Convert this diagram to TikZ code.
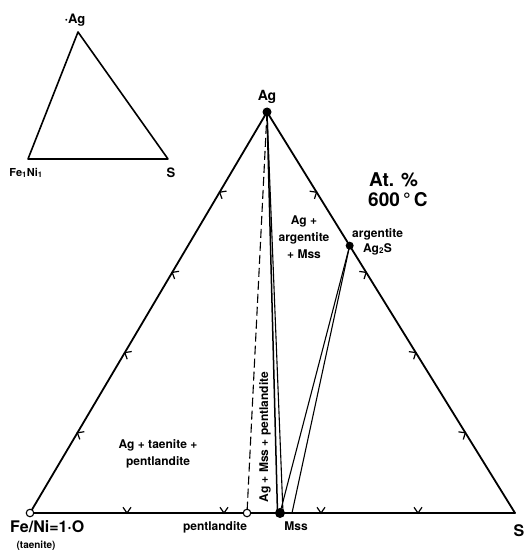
\documentclass[tikz,border=0pt]{standalone}
\usepackage{fontspec}
\setmainfont{TeX Gyre Heros}
\usetikzlibrary{calc}
\begin{document}
\begin{tikzpicture}[x=1pt,y=-1pt,
  edge/.style={line width=1.8pt, line cap=round, line join=round},
  tie/.style={line width=1.1pt},
  dashtie/.style={line width=1.1pt, dash pattern=on 9pt off 4pt},
  tickmark/.style={line width=1.2pt},
  lbl/.style={font=\bfseries\fontsize{12}{17}\selectfont, inner sep=0pt, align=center},
  biglbl/.style={font=\bfseries\fontsize{16}{18}\selectfont, inner sep=0pt},
  fdot/.style={circle, fill=black, inner sep=0pt, minimum size=9pt},
  odot/.style={circle, draw=black, fill=white, line width=1.1pt, inner sep=0pt, minimum size=7.5pt}]
\useasboundingbox (0,0) rectangle (525,553);

% inset triangle
\coordinate (iA) at (78,32);
\coordinate (iF) at (28,159);
\coordinate (iS) at (168,159);
\draw[edge, line width=1.6pt] (iA) -- (iF) -- (iS) -- cycle;
\node[lbl, font=\bfseries\fontsize{13}{15}\selectfont] (iAl) at (75,20) {·Ag};
\node[lbl, font=\bfseries\fontsize{11}{13}\selectfont] (iFl) at (26,173) {Fe\textsubscript{1}Ni\textsubscript{1}};
\node[lbl, font=\bfseries\fontsize{13}{15}\selectfont] (iSl) at (171,173) {S};

% main triangle
\coordinate (Ag) at (267,112);
\coordinate (FN) at (30,513);
\coordinate (S) at (515,513);
\coordinate (Ag2S) at ($(Ag)!1/3!(S)$);
\coordinate (Mss) at (280,513);
\coordinate (Pn) at (247,513);
\coordinate (M1) at (277.5,513);
\coordinate (M2) at (283,513);
\coordinate (M3) at (292,513);

\draw[edge] (FN) -- (Ag) -- (S) -- cycle;

% tie lines
\draw[dashtie] (Ag) -- (Pn);
\draw[tie, line width=1.5pt] (Ag) -- (M1);
\draw[tie] (Ag) -- (M2);
\draw[tie] (Ag2S) -- (Mss);
\draw[tie] (Ag2S) -- (M3);

% tick marks
\foreach \t in {0.2,0.4,0.6,0.8} {
  \coordinate (tl) at ($(FN)!\t!(Ag)$);
  \draw[tickmark] (tl) +(9:7pt) -- (tl) -- +(-70:7pt);
  \coordinate (tr) at ($(Ag)!\t!(S)$);
  \draw[tickmark] (tr) +(172:7pt) -- (tr) -- +(252:7pt);
  \coordinate (tb) at ($(FN)!\t!(S)$);
  \draw[tickmark] (tb) +(55:7pt) -- (tb) -- +(125:7pt);
}

% points
\node[fdot] (AgDot) at (Ag) {};
\node[fdot, minimum size=8pt] (Ag2SDot) at (Ag2S) {};
\node[fdot, minimum size=10pt] (MssDot) at (Mss) {};
\node[odot] (FNDot) at (FN) {};
\node[odot] (PnDot) at (Pn) {};

% labels
\node[lbl, font=\bfseries\fontsize{14}{16}\selectfont] (AgL) at (267,97) {Ag};
\node[lbl, font=\bfseries\fontsize{19}{22}\selectfont, anchor=west] (AtL) at (369,180) {At. \%};
\node[lbl, font=\bfseries\fontsize{19}{22}\selectfont, anchor=west] (TL) at (368,200) {600\,°\,C};
\node[lbl, anchor=west] (argL) at (352,234) {argentite};
\node[lbl, anchor=west] (ag2sL) at (363,249) {Ag\textsubscript{2}S};
\node[lbl] (r1) at (304,237) {Ag +\\argentite\\+ Mss};
\node[lbl] (r2) at (158,454) {Ag + taenite +\\pentlandite};
\node[lbl, rotate=90] (r3) at (265,437) {Ag + Mss + pentlandite};
\node[lbl] (pnL) at (215,527) {pentlandite};
\node[lbl] (mssL) at (296,526) {Mss};
\node[biglbl, anchor=west] (fnL) at (10,527) {Fe/Ni=1·O};
\node[lbl, font=\bfseries\fontsize{10}{12}\selectfont] (taL) at (36,546) {(taenite)};
\node[biglbl] (sL) at (519,531) {S};
\end{tikzpicture}
\end{document}
